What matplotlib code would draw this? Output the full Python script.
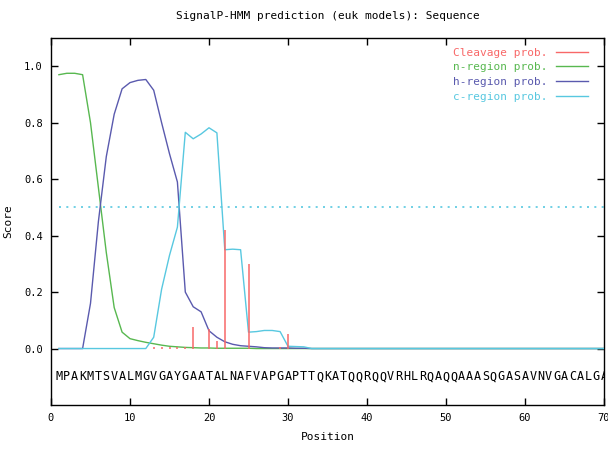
import numpy as np
import matplotlib.pyplot as plt

plt.rcParams['font.family'] = ['DejaVu Sans Mono']

# residue positions and sequence
sequence = "MPAKMTSVALMGVGAYGAATALNAFVAPGAPTTQKATQQRQQVRHLRQAQQAAASQGASAVNVGACALGA"
positions = np.arange(1, 71)

# region probabilities, positions 1..33 (zero afterwards)
n_head = [0.97, 0.975, 0.975, 0.97, 0.80, 0.57, 0.34, 0.145, 0.058, 0.035,
          0.028, 0.022, 0.017, 0.012, 0.008, 0.006, 0.004, 0.003, 0.002, 0.002,
          0.001, 0.001, 0.001, 0.001, 0.001, 0.0, 0.0, 0.0, 0.0, 0.0,
          0.0, 0.0, 0.0]
h_head = [0.0, 0.0, 0.0, 0.0, 0.16, 0.45, 0.68, 0.83, 0.92, 0.942,
          0.95, 0.953, 0.915, 0.80, 0.69, 0.59, 0.20, 0.148, 0.13, 0.063,
          0.04, 0.024, 0.015, 0.01, 0.008, 0.006, 0.003, 0.002, 0.002, 0.002,
          0.001, 0.001, 0.0]
c_head = [0.0, 0.0, 0.0, 0.0, 0.0, 0.0, 0.0, 0.0, 0.0, 0.0,
          0.0, 0.0, 0.04, 0.21, 0.33, 0.43, 0.766, 0.743, 0.76, 0.782,
          0.764, 0.35, 0.352, 0.35, 0.058, 0.06, 0.064, 0.064, 0.06, 0.008,
          0.007, 0.006, 0.0]

n_region = np.concatenate([n_head, np.zeros(70 - len(n_head))])
h_region = np.concatenate([h_head, np.zeros(70 - len(h_head))])
c_region = np.concatenate([c_head, np.zeros(70 - len(c_head))])

# cleavage probabilities (impulses)
cleave_pos = [13, 14, 15, 16, 17, 18, 20, 21, 22, 25, 29, 30]
cleave_val = [0.004, 0.004, 0.004, 0.004, 0.005, 0.078, 0.068, 0.026, 0.42, 0.298, 0.007, 0.05]

threshold = 0.5

red = '#f86868'
green = '#58b850'
blue = '#5a5aae'
cyan = '#58c8e0'

fig = plt.figure(figsize=(6.08, 4.5), dpi=100)
ax = fig.add_axes([51 / 608, 45 / 450, 553 / 608, 367 / 450])

ax.plot(positions, n_region, color=green, lw=1.0, label='n-region prob.', zorder=2)
ax.plot(positions, h_region, color=blue, lw=1.0, label='h-region prob.', zorder=3)
ax.plot(positions, c_region, color=cyan, lw=1.0, label='c-region prob.', zorder=4)
ax.vlines(cleave_pos, 0, cleave_val, color=red, lw=1.1, zorder=5)
ax.plot([], [], color=red, lw=1.0, label='Cleavage prob.')
# threshold
ax.plot([1, 70], [threshold, threshold], color=cyan, lw=1.2,
        linestyle=(0, (1.2, 3.2)), zorder=1)

for i, aa in zip(positions, sequence):
    ax.text(i, -0.1, aa, ha='center', va='center', fontsize=8.5, clip_on=True)

ax.set_xlim(0, 70)
ax.set_ylim(-0.2, 1.1)
ax.set_xticks(range(0, 71, 10))
ax.set_yticks([0.0, 0.2, 0.4, 0.6, 0.8, 1.0])
ax.set_yticklabels(['0.0', '0.2', '0.4', '0.6', '0.8', '1.0'])
ax.tick_params(direction='in', top=True, right=True, length=5, width=1,
               labelsize=7.5, pad=6)
for s in ax.spines.values():
    s.set_linewidth(1.0)

ax.set_title('SignalP-HMM prediction (euk models): Sequence', fontsize=8, pad=14)
ax.set_xlabel('Position', fontsize=8, labelpad=6)
ax.set_ylabel('Score', fontsize=8, labelpad=8)

handles, labels = ax.get_legend_handles_labels()
order = [3, 0, 1, 2]
leg = ax.legend([handles[k] for k in order], [labels[k] for k in order],
                loc='upper right', bbox_to_anchor=(0.985, 0.995), frameon=False,
                markerfirst=False, fontsize=8, handlelength=2.9,
                handletextpad=0.7, labelspacing=0.42, borderpad=0.2,
                labelcolor='linecolor')

fig.savefig('out.png', dpi=100)
